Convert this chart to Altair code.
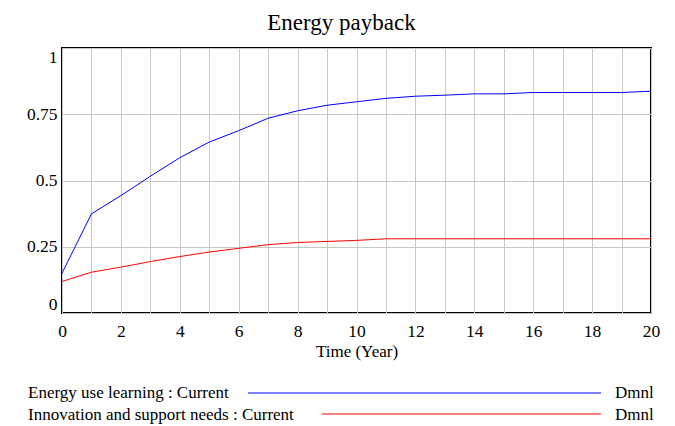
import altair as alt
import pandas as pd

# ---- data ----
years = list(range(0, 21))
energy_use_learning = [0.150, 0.374, 0.443, 0.516, 0.586, 0.645, 0.688, 0.735, 0.763, 0.784,
                       0.797, 0.810, 0.818, 0.822, 0.827, 0.827, 0.832, 0.832, 0.832, 0.832, 0.837]
innovation_support = [0.119, 0.154, 0.173, 0.194, 0.213, 0.230, 0.244, 0.258, 0.266, 0.270,
                      0.274, 0.280, 0.280, 0.280, 0.280, 0.280, 0.280, 0.280, 0.280, 0.280, 0.280]
series_names = ["Energy use learning : Current", "Innovation and support needs : Current"]
series_colors = ["#0000ff", "#ff0000"]
unit_label = "Dmnl"
x_ticks = list(range(0, 21))
y_ticks = [0, 0.25, 0.5, 0.75, 1]
chart_title = "Energy payback"
x_title = "Time (Year)"

df = pd.DataFrame({
    "Time": years + years,
    "value": energy_use_learning + innovation_support,
    "series": [series_names[0]] * len(years) + [series_names[1]] * len(years),
})

FONT = "Liberation Serif"
W, H = 589, 265

lines = alt.Chart(df).mark_line(strokeWidth=1, clip=True).encode(
    x=alt.X("Time:Q",
            scale=alt.Scale(domain=[0, 20], nice=False, zero=False),
            axis=alt.Axis(values=x_ticks,
                          labelExpr="datum.value % 2 === 0 ? datum.label : ''",
                          title=x_title, grid=True, ticks=False, domain=False,
                          labelFlush=False, labelOverlap=False,
                          labelPadding=9, labelFont=FONT, labelFontSize=17.5,
                          labelColor="black", labelBaseline="top",
                          titleFont=FONT, titleFontSize=17, titleFontWeight="normal",
                          titleColor="black", titleY=43, titleBaseline="alphabetic")),
    y=alt.Y("value:Q",
            scale=alt.Scale(domain=[0, 1], nice=False),
            axis=alt.Axis(values=y_ticks, format=".2~f", title=None, grid=True,
                          ticks=False, domain=False, labelPadding=5,
                          labelFont=FONT, labelFontSize=17.5, labelColor="black",
                          labelFlush=True, labelFlushOffset=0)),
    color=alt.Color("series:N",
                    scale=alt.Scale(domain=series_names, range=series_colors),
                    legend=None),
    detail="series:N",
)

title_layer = alt.Chart(pd.DataFrame({"t": [chart_title]})).mark_text(
    align="center", baseline="alphabetic", font=FONT, fontSize=23, color="black"
).encode(text="t:N", x=alt.value(W / 2 - 15), y=alt.value(-18))

layers = [lines, title_layer]
row_y = [350, 372]
rule_y = [345, 366]
rule_x0 = [186, 260]
for i, name in enumerate(series_names):
    d = pd.DataFrame({"label": [name], "unit": [unit_label]})
    layers.append(alt.Chart(d).mark_text(align="left", baseline="alphabetic", font=FONT,
                                         fontSize=17, color="black").encode(
        text="label:N", x=alt.value(-34), y=alt.value(row_y[i])))
    layers.append(alt.Chart(d).mark_rule(color=series_colors[i], strokeWidth=1.2).encode(
        x=alt.value(rule_x0[i]), x2=alt.value(539), y=alt.value(rule_y[i])))
    layers.append(alt.Chart(d).mark_text(align="left", baseline="alphabetic", font=FONT,
                                         fontSize=17, color="black").encode(
        text="unit:N", x=alt.value(553), y=alt.value(row_y[i])))

chart = alt.layer(*layers).properties(
    width=W, height=H,
    autosize=alt.AutoSizeParams(type="none"),
    padding={"left": 54, "top": 40, "right": 16, "bottom": 112},
).configure_view(
    stroke="black", strokeWidth=2
).configure_axis(
    gridColor="#c8c8c8", gridWidth=1, gridOpacity=1
)

chart.save("out.html", embed_options={"renderer": "svg", "actions": False})
